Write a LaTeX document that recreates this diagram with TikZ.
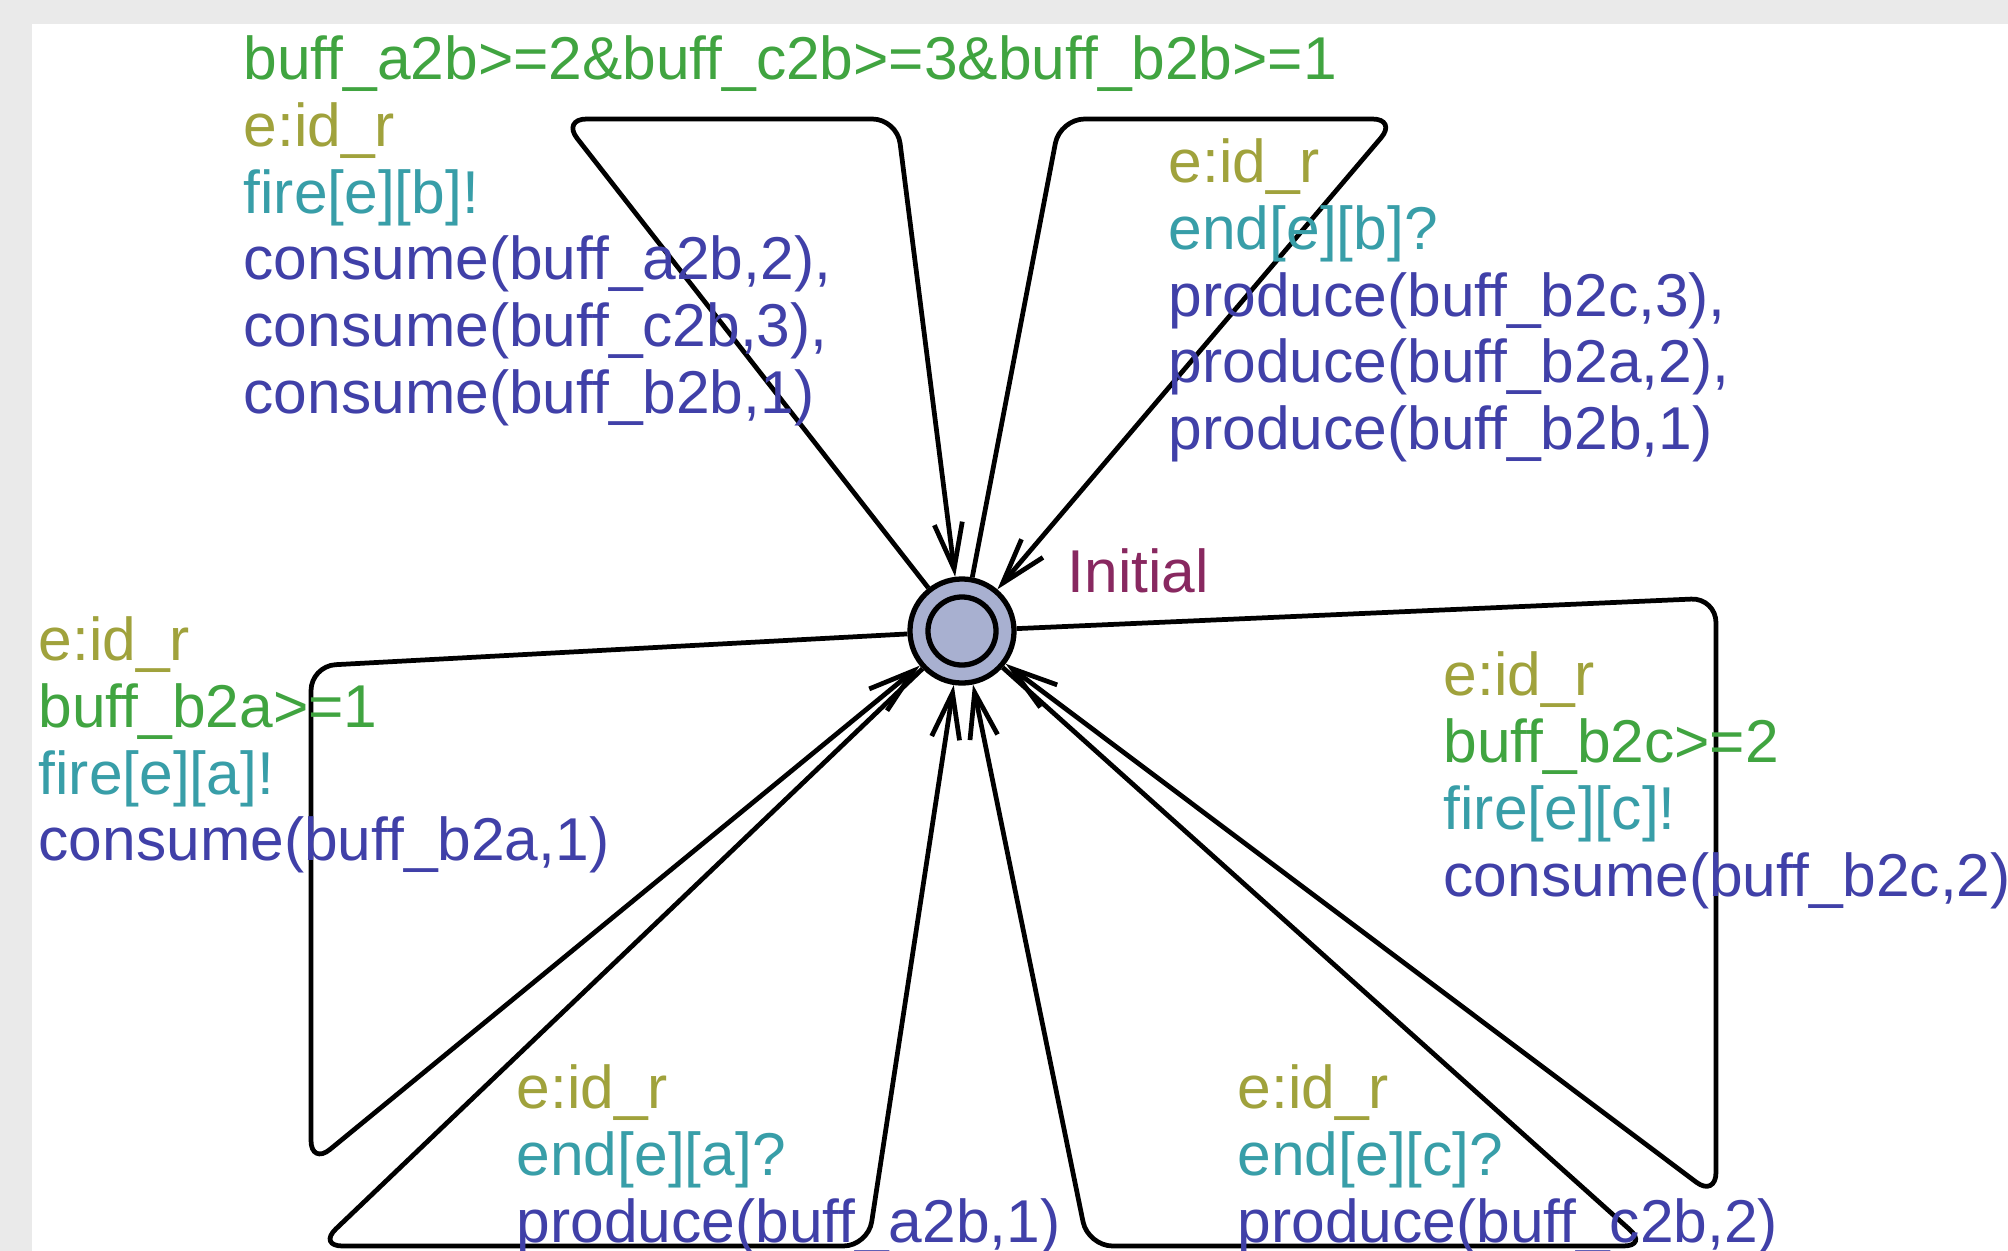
\documentclass[tikz,border=0pt]{standalone}
\usepackage{fontspec}
\setmainfont{Liberation Sans}
\usetikzlibrary{arrows.meta}

\definecolor{selcol}{RGB}{160,162,60}
\definecolor{grdcol}{RGB}{64,164,64}
\definecolor{syncol}{RGB}{56,158,168}
\definecolor{updcol}{RGB}{64,64,168}
\definecolor{namecol}{RGB}{136,40,96}
\definecolor{loccol}{RGB}{168,176,208}
\definecolor{bgcol}{RGB}{234,234,234}

\begin{document}
\begin{tikzpicture}[x=0.01cm, y=-0.01cm,
  txt/.style={anchor=base west, inner sep=0pt, font=\fontsize{17.2}{19}\selectfont},
  lblsel/.style={txt, text=selcol},
  lblgrd/.style={txt, text=grdcol},
  lblsync/.style={txt, text=syncol},
  lblupd/.style={txt, text=updcol},
  lblname/.style={txt, text=namecol},
  loc/.style={circle, draw=black, line width=1.5pt, fill=loccol,
              minimum size=1.04cm, inner sep=0pt},
  trans/.style={draw=black, line width=1.35pt, rounded corners=7pt,
                -{Straight Barb[length=13pt, width=8pt]}}]

% canvas with the grey frame strips
\useasboundingbox (0,0) rectangle (2008,1251);
\fill[white] (0,0) rectangle (2008,1251);
\fill[bgcol] (0,0) rectangle (2008,24);
\fill[bgcol] (0,0) rectangle (32,1251);

% the single location
\node[loc] (init) at (962,631) {};
\draw[line width=1.5pt] (init.center) circle[radius=0.34cm];
\node[lblname] (initname) at (1067,592) {Initial};

% nails of the six self-loops
\coordinate (tl1) at (562,119);  \coordinate (tl2) at (897,119);
\coordinate (tr1) at (1060,119); \coordinate (tr2) at (1397,119);
\coordinate (r1)  at (1716,598); \coordinate (r2)  at (1716,1197);
\coordinate (br1) at (1648,1246); \coordinate (br2) at (1088,1246);
\coordinate (bl1) at (318,1246); \coordinate (bl2) at (868,1246);
\coordinate (l1)  at (311,666);  \coordinate (l2)  at (311,1165);

\draw[trans] (init) -- (tl1) -- (tl2) -- (init);
\draw[trans] (init) -- (tr1) -- (tr2) -- (init);
\draw[trans] (init) -- (r1) -- (r2) -- (init);
\draw[trans] (init) -- (br1) -- (br2) -- (init);
\draw[trans] (init) -- (bl1) -- (bl2) -- (init);
\draw[trans] (init) -- (l1) -- (l2) -- (init);

% labels of the loop through the upper left nails
\node[lblgrd]  (tla) at (243,79)  {buff\_a2b>=2\&buff\_c2b>=3\&buff\_b2b>=1};
\node[lblsel]  (tlb) at (243,146) {e:id\_r};
\node[lblsync] (tlc) at (243,213) {fire[e][b]!};
\node[lblupd]  (tld) at (243,279) {consume(buff\_a2b,2),};
\node[lblupd]  (tle) at (243,346) {consume(buff\_c2b,3),};
\node[lblupd]  (tlf) at (243,413) {consume(buff\_b2b,1)};

% labels of the loop through the upper right nails
\node[lblsel]  (tra) at (1168,182) {e:id\_r};
\node[lblsync] (trb) at (1168,249) {end[e][b]?};
\node[lblupd]  (trc) at (1168,316) {produce(buff\_b2c,3),};
\node[lblupd]  (trd) at (1168,382) {produce(buff\_b2a,2),};
\node[lblupd]  (tre) at (1168,449) {produce(buff\_b2b,1)};

% labels of the left loop
\node[lblsel]  (la) at (38,660) {e:id\_r};
\node[lblgrd]  (lb) at (38,727) {buff\_b2a>=1};
\node[lblsync] (lc) at (38,794) {fire[e][a]!};
\node[lblupd]  (ld) at (38,860) {consume(buff\_b2a,1)};

% labels of the right loop
\node[lblsel]  (ra) at (1443,695) {e:id\_r};
\node[lblgrd]  (rb) at (1443,762) {buff\_b2c>=2};
\node[lblsync] (rc) at (1443,829) {fire[e][c]!};
\node[lblupd]  (rd) at (1443,896) {consume(buff\_b2c,2)};

% labels of the lower loops
\node[lblsel]  (bla) at (516,1108) {e:id\_r};
\node[lblsync] (blb) at (516,1175) {end[e][a]?};
\node[lblupd]  (blc) at (516,1242) {produce(buff\_a2b,1)};

\node[lblsel]  (bra) at (1237,1108) {e:id\_r};
\node[lblsync] (brb) at (1237,1175) {end[e][c]?};
\node[lblupd]  (brc) at (1237,1242) {produce(buff\_c2b,2)};

\end{tikzpicture}
\end{document}
